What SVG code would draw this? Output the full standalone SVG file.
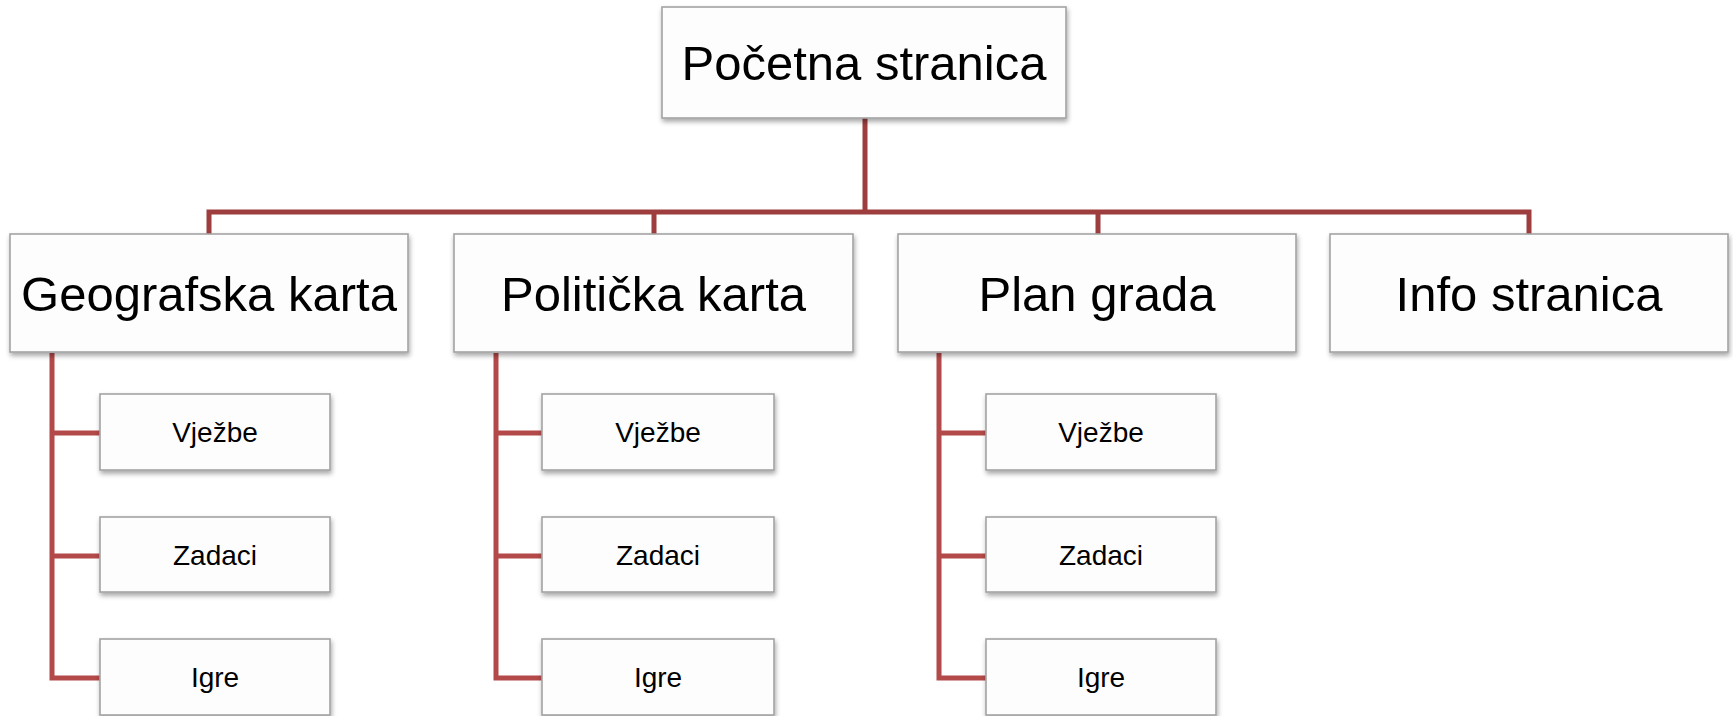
<svg xmlns="http://www.w3.org/2000/svg" width="1733" height="716" viewBox="0 0 1733 716">
<defs>
<filter id="sh" x="-5%" y="-10%" width="115%" height="130%">
<feGaussianBlur in="SourceAlpha" stdDeviation="2.5"/>
<feOffset dx="1" dy="3" result="b"/>
<feComponentTransfer><feFuncA type="linear" slope="0.35"/></feComponentTransfer>
<feMerge><feMergeNode/><feMergeNode in="SourceGraphic"/></feMerge>
</filter>
</defs>
<style>
.box{fill:#fdfdfd;stroke:#a3a3a3;stroke-width:1.6;filter:url(#sh)}
.t{font-family:"Liberation Sans",Arial,sans-serif;fill:#000;text-anchor:middle}
.big{font-size:49px}
.small{font-size:28px}
.c1{fill:none;stroke:#9e3d3d;stroke-width:5}
.c2{fill:none;stroke:#b34949;stroke-width:5}
</style>
<rect width="1733" height="716" fill="#ffffff"/>
<g id="connectors">
<path class="c1" d="M865 118 V212 M209 234 V212 H1529 V234 M654 212 V234 M1098 212 V234"/>
<path class="c2" d="M52 353 V678 H100 M52 433 H100 M52 556 H100"/>
<path class="c2" d="M496 353 V678 H542 M496 433 H542 M496 556 H542"/>
<path class="c2" d="M939 353 V678 H986 M939 433 H986 M939 556 H986"/>
</g>
<g id="node-pocetna"><rect class="box" x="662" y="7" width="404" height="111"/><text class="t big" x="864" y="80">Početna stranica</text></g>
<g id="node-geografska"><rect class="box" x="10" y="234" width="398" height="118"/><text class="t big" x="209" y="311">Geografska karta</text></g>
<g id="node-politicka"><rect class="box" x="454" y="234" width="399" height="118"/><text class="t big" x="653.5" y="311">Politička karta</text></g>
<g id="node-plan"><rect class="box" x="898" y="234" width="398" height="118"/><text class="t big" x="1097" y="311">Plan grada</text></g>
<g id="node-info"><rect class="box" x="1330" y="234" width="398" height="118"/><text class="t big" x="1529" y="311">Info stranica</text></g>
<g id="node-geo-vjezbe"><rect class="box" x="100" y="394" width="230" height="76"/><text class="t small" x="215" y="442">Vježbe</text></g>
<g id="node-geo-zadaci"><rect class="box" x="100" y="517" width="230" height="75"/><text class="t small" x="215" y="565">Zadaci</text></g>
<g id="node-geo-igre"><rect class="box" x="100" y="639" width="230" height="76"/><text class="t small" x="215" y="687">Igre</text></g>
<g id="node-pol-vjezbe"><rect class="box" x="542" y="394" width="232" height="76"/><text class="t small" x="658" y="442">Vježbe</text></g>
<g id="node-pol-zadaci"><rect class="box" x="542" y="517" width="232" height="75"/><text class="t small" x="658" y="565">Zadaci</text></g>
<g id="node-pol-igre"><rect class="box" x="542" y="639" width="232" height="76"/><text class="t small" x="658" y="687">Igre</text></g>
<g id="node-plan-vjezbe"><rect class="box" x="986" y="394" width="230" height="76"/><text class="t small" x="1101" y="442">Vježbe</text></g>
<g id="node-plan-zadaci"><rect class="box" x="986" y="517" width="230" height="75"/><text class="t small" x="1101" y="565">Zadaci</text></g>
<g id="node-plan-igre"><rect class="box" x="986" y="639" width="230" height="76"/><text class="t small" x="1101" y="687">Igre</text></g>
</svg>
